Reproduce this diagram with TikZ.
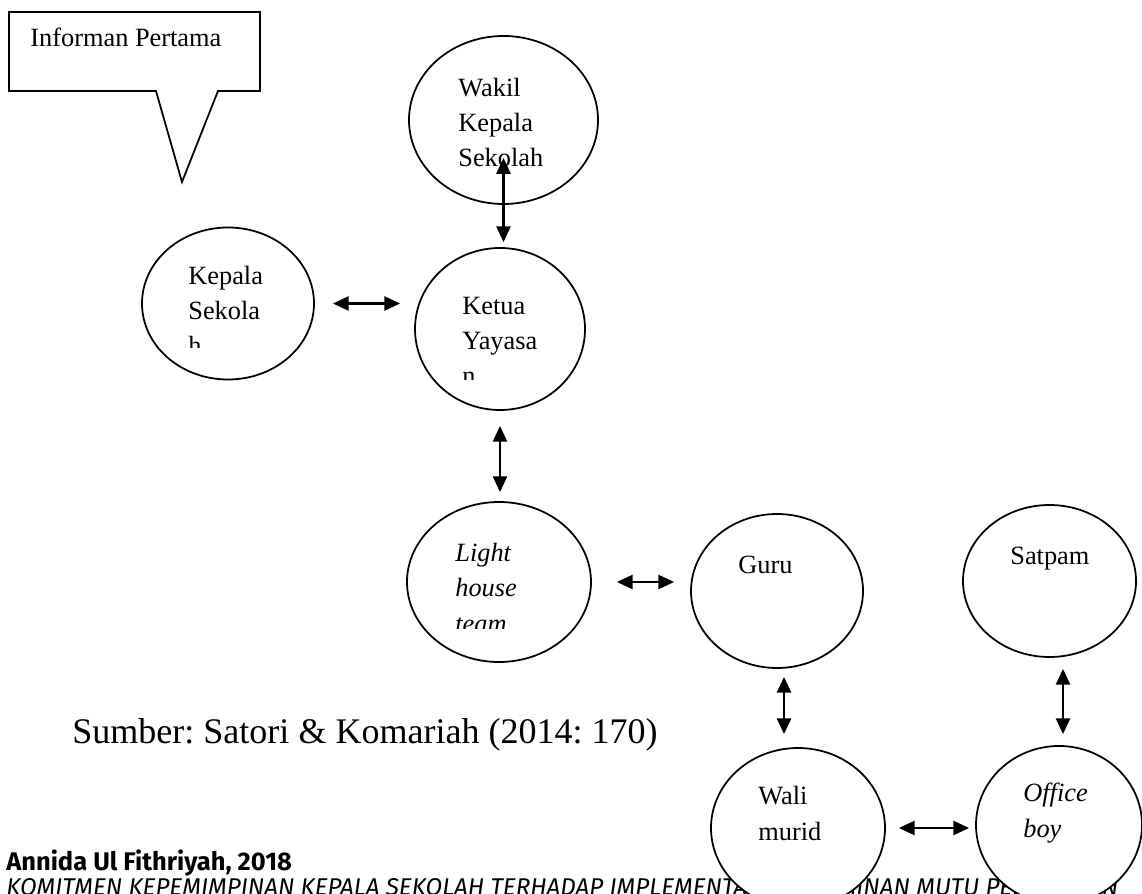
\documentclass[tikz,border=0pt]{standalone}
\usepackage{fontspec}
\setmainfont{Liberation Serif}
\newfontfamily\footfont{Fira Sans}
\usetikzlibrary{shapes.geometric,arrows.meta}
\frenchspacing

\tikzset{
  bubble/.style={draw, ellipse, line width=1pt, fill=white, inner sep=0pt},
  lbl/.style={anchor=base west, inner sep=0pt, align=left, font=\fontsize{15}{20}\selectfont},
  lbli/.style={lbl, font=\fontsize{15}{20}\selectfont\itshape},
  link/.style={line width=1.4pt, {Triangle[length=9pt,width=8pt]}-{Triangle[length=9pt,width=8pt]}}
}

\begin{document}
\begin{tikzpicture}
\clip (0,0) rectangle (22.84,-17.88);

% footer of the page
\node[anchor=base west, inner sep=0pt, font=\footfont\bfseries\fontsize{14.5}{16}\selectfont] (nama) at (0.12,-17.40) {Annida Ul Fithriyah, 2018};
\node[anchor=base west, inner sep=0pt, font=\footfont\itshape\fontsize{13.8}{16}\selectfont] (judul) at (0.12,-17.90) {KOMITMEN KEPEMIMPINAN KEPALA SEKOLAH TERHADAP IMPLEMENTASI PENJAMINAN MUTU PENDIDIKAN};

% callout
\draw[line width=1pt] (0.18,-0.24) -- (5.20,-0.24) -- (5.20,-1.82) -- (4.36,-1.82) -- (3.64,-3.64) -- (3.12,-1.82) -- (0.18,-1.82) -- cycle;
\node[lbl] (info) at (0.60,-0.94) {Informan Pertama};

% ellipses
\node[bubble, minimum width=3.78cm, minimum height=3.36cm] (wakil) at (10.07,-2.40) {};
\node[bubble, minimum width=3.44cm, minimum height=3.04cm] (kepala) at (4.56,-6.07) {};
\node[bubble, minimum width=3.40cm, minimum height=3.24cm] (ketua) at (10.00,-6.58) {};
\node[bubble, minimum width=3.68cm, minimum height=3.20cm] (light) at (9.98,-11.64) {};
\node[bubble, minimum width=3.44cm, minimum height=3.08cm] (guru) at (15.54,-11.82) {};
\node[bubble, minimum width=3.46cm, minimum height=3.04cm] (satpam) at (20.99,-11.62) {};
\node[bubble, minimum width=3.48cm, minimum height=3.20cm] (wali) at (15.96,-16.56) {};
\node[bubble, minimum width=3.32cm, minimum height=3.16cm] (office) at (21.18,-16.50) {};

% labels (base = last line)
\node[lbl] (wakiltxt) at (9.16,-3.34) {Wakil\\Kepala\\Sekolah};
\begin{scope}
  \clip (3.5,-4.8) rectangle (6.2,-6.96);
  \node[lbl] (kepalatxt) at (3.76,-7.10) {Kepala\\Sekola\\h};
\end{scope}
\begin{scope}
  \clip (9.0,-5.6) rectangle (11.7,-7.60);
  \node[lbl] (ketuatxt) at (9.24,-7.70) {Ketua\\Yayasa\\n};
\end{scope}
\begin{scope}
  \clip (8.9,-10.6) rectangle (11.8,-12.56);
  \node[lbli] (lighttxt) at (9.10,-12.64) {Light\\house\\team};
\end{scope}
\node[lbl] (gurutxt) at (14.76,-11.46) {Guru};
\node[lbl] (satpamtxt) at (20.20,-11.28) {Satpam};
\node[lbl] (walitxt) at (15.16,-16.80) {Wali\\murid};
\node[lbli] (officetxt) at (20.46,-16.74) {Office\\boy};

\node[anchor=base west, inner sep=0pt, font=\fontsize{20.5}{24}\selectfont] (sumber) at (1.44,-14.86) {Sumber: Satori \& Komariah (2014: 170)};

% arrows
\draw[link, shorten <=0.76cm, shorten >=0.10cm] (wakil.center) -- (wakil.center |- ketua.north);
\draw[link, shorten <=0.36cm, shorten >=0.28cm] (kepala.east) -- (kepala.east -| ketua.west);
\draw[link, shorten <=0.30cm, shorten >=0.18cm] (ketua.south) -- (ketua.south |- light.north);
\draw[link, shorten <=0.50cm, shorten >=0.32cm] (light.east) -- (light.east -| guru.west);
\draw[link, shorten <=0.16cm, shorten >=0.26cm] ([xshift=0.14cm]guru.south) -- ([xshift=0.14cm]guru.south |- wali.north);
\draw[link, shorten <=0.22cm, shorten >=0.22cm] ([xshift=0.27cm]satpam.south) -- ([xshift=0.27cm]satpam.south |- office.north);
\draw[link, shorten <=0.26cm, shorten >=0.12cm] (wali.east) -- (wali.east -| office.west);
\end{tikzpicture}
\end{document}
